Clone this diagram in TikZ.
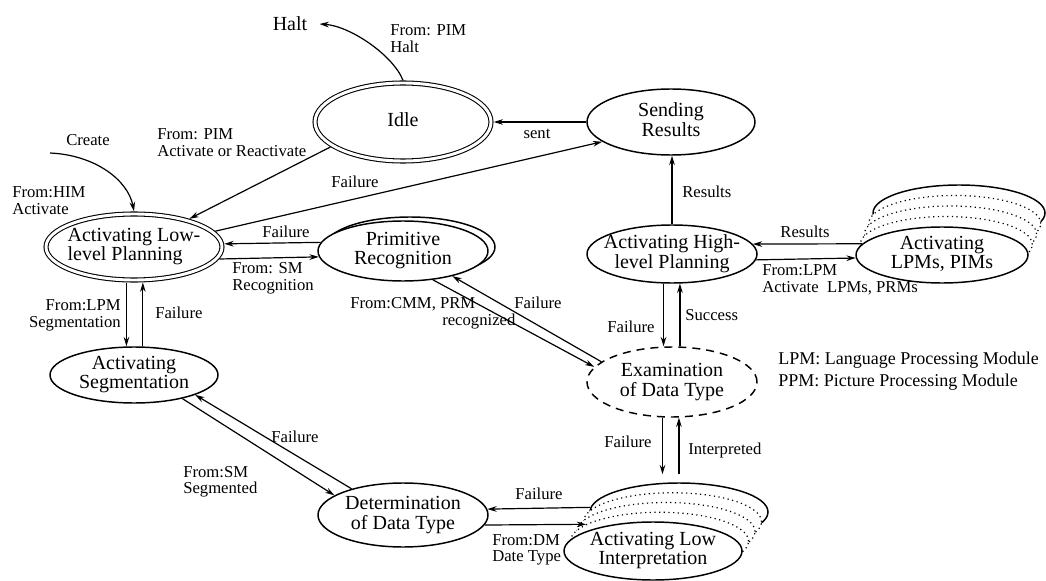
\documentclass[tikz,border=0pt]{standalone}
\usepackage{fontspec}
\setmainfont{Liberation Serif}
\usetikzlibrary{shapes.geometric,arrows.meta,calc}
\newcommand\nfont{\fontsize{15}{14.5}\selectfont}
\newcommand\lfont{\fontsize{12.5}{12.75}\selectfont}
\newcommand\tfont{\fontsize{12.5}{12}\selectfont}
\newcommand\gfont{\fontsize{13.5}{14}\selectfont}
\newcommand\ctext[2][c]{\makebox[0pt]{\raisebox{-0.25em}[0pt][0pt]{\begin{tabular}{@{}#1@{}}#2\end{tabular}}}}
\tikzset{
  st/.style={ellipse, draw, line width=1.1pt, fill=white, inner sep=0pt, font=\nfont},
  dbl/.style={double, line width=0.8pt, double distance=2.2pt, outer sep=2pt},
  stk/.style={ellipse, draw, line width=0.9pt, fill=white, inner sep=0pt, dash pattern=on 0.9pt off 2.6pt},
  sz/.style 2 args={minimum width=#1pt, minimum height=#2pt},
  arr/.style={-{Stealth[length=7pt,width=4.2pt]}, line width=0.9pt},
  lab/.style={font=\lfont, inner sep=0pt},
}
\begin{document}
\begin{tikzpicture}[x=0.75pt,y=-0.75pt]
\fill[white] (0,0) rectangle (1046,581);
\useasboundingbox (0,0) rectangle (1046,581);

% states
\node[st, dbl, sz={132}{58.5}] (idle) at (403,122) {\ctext{Idle}};
\node[st, sz={126}{49.5}] (sr) at (671,122) {\ctext{Sending\\Results}};
\node[st, dbl, sz={132}{49.5}] (llp) at (134,247) {\ctext[l]{Activating Low-\\level Planning}};
\node[st, sz={127.5}{45}] (prc) at (410,247) {};
\node[st, sz={127.5}{45}] (pr) at (403,251) {\ctext{Primitive\\Recognition}};
\node[st, sz={126}{42}] (seg) at (134,375) {\ctext{Activating\\Segmentation}};
\node[st, sz={127.5}{43.5}] (hlp) at (672,254) {\ctext{Activating High-\\level Planning}};

\node[st, sz={129}{42}] (lpm4) at (959,213) {};
\node[stk, sz={129}{42}] (lpm3) at (954.75,223.5) {};
\node[stk, sz={129}{42}] (lpm2) at (950.5,234) {};
\node[stk, sz={129}{42}] (lpm1) at (946.25,244.5) {};
\node[st, sz={129}{42}] (lpm) at (942,255) {\ctext{Activating\\LPMs, PIMs}};

\node[st, dash pattern=on 6pt off 4.5pt, sz={127.5}{52.5}] (exam) at (672,382) {\ctext{Examination\\of Data Type}};
\node[st, sz={127.5}{48}] (det) at (403,515) {\ctext{Determination\\of Data Type}};

\node[st, sz={133.5}{43.5}] (lint4) at (679,512) {};
\node[stk, sz={133.5}{43.5}] (lint3) at (672.5,521.75) {};
\node[stk, sz={133.5}{43.5}] (lint2) at (666,531.5) {};
\node[stk, sz={133.5}{43.5}] (lint1) at (659.5,541.25) {};
\node[st, sz={133.5}{43.5}] (lint) at (653,551) {\ctext{Activating Low\\Interpretation}};

% free texts
\node[font=\nfont, inner sep=0pt, inner xsep=9pt] (halt) at (290,24) {Halt};
\coordinate (cr) at (50,153);
\node[lab, align=left, anchor=west] (lhalt) at (390,38.5) {From: PIM\\Halt};
\node[lab] (lcreate) at (88,140) {Create};
\node[lab, align=left, anchor=west] (lhim) at (12,201) {From:HIM\\Activate};
\node[lab, align=left, anchor=west] (lpim) at (157,142.5) {From: PIM\\Activate or Reactivate};
\node[lab] (lf1) at (355,182) {Failure};
\node[lab] (lsent) at (537,134) {sent};
\node[lab, anchor=west] (lres1) at (682,192) {Results};
\node[lab] (lres2) at (805,232) {Results};
\node[lab, align=left, anchor=west] (llpm) at (762,280) {From:LPM\\Activate\ \ LPMs, PRMs};
\node[lab] (lf2) at (286,232) {Failure};
\node[lab, align=left, anchor=west] (lsm) at (232,278.5) {From: SM\\Recognition};
\node[lab, align=right, anchor=east] (lseg) at (121,315.5) {From:LPM\\Segmentation};
\node[lab, anchor=west] (lf3) at (155,313) {Failure};
\node[lab, align=left, anchor=west] (lcmm) at (350,313.5) {From:CMM, PRM\\\hspace*{69pt}recognized};
\node[lab] (lf4) at (538,303) {Failure};
\node[lab] (lf5) at (631,327) {Failure};
\node[lab, anchor=west] (lsucc) at (685,315) {Success};
\node[font=\gfont, anchor=west, inner sep=0pt] (leg1) at (778,360) {LPM: Language Processing Module};
\node[font=\gfont, anchor=west, inner sep=0pt] (leg2) at (778,382) {PPM: Picture Processing Module};
\node[lab] (lf6) at (295,437) {Failure};
\node[lab, font=\tfont, align=left, anchor=west] (lsm2) at (183,481.5) {From:SM\\Segmented};
\node[lab] (lf7) at (539,494) {Failure};
\node[lab, font=\tfont, align=left, anchor=west] (ldm) at (492,550) {From:DM\\Date Type};
\node[lab] (lf8) at (628,442) {Failure};
\node[lab, anchor=west] (linterp) at (688,450) {Interpreted};

% connectors
\draw[arr] (idle.north) .. controls (393,55) and (350,26) .. (halt.east);
\draw[arr] (cr) .. controls (95,155) and (128,180) .. (llp.north);
\draw[arr] (idle.199.7) -- (llp.27);
\draw[arr] (llp.11.6) -- (sr.196.9);
\draw[arr] (sr.west) -- (idle.east);
\draw[arr] (hlp.north) -- (hlp.north |- sr.south);
\draw[arr] (lpm.172.1) -- (hlp.7.1);
\draw[arr] (hlp.356.6) -- (lpm.182.7);
\draw[arr] (pr.174.4) -- (llp.2.5);
\draw[arr] (llp.352.7) -- (pr.184.8);
\draw[arr] (llp.258.9) -- (llp.258.9 |- seg.north);
\draw[arr] (llp.284.15 |- seg.north) -- (llp.284.15);
\draw[arr] (exam.164.6) -- (pr.333.4);
\draw[arr] (pr.316) -- (exam.169.4);
\draw[arr] (hlp.254.6) -- (hlp.254.6 |- exam.north);
\draw[arr] (hlp.285.4 |- exam.north) -- (hlp.285.4);
\draw[arr] (det.153) -- (seg.342);
\draw[arr] (seg.334) -- (det.164);
\draw[arr] (lint4.177.4) -- (det.4.8);
\draw[arr] (det.353.7) -- (lint1.167.6);
\draw[arr, shorten >=6pt] (exam.255.6) -- (exam.255.6 |- lint4.north);
\draw[arr, shorten <=6pt] (exam.281.3 |- lint4.north) -- (exam.281.3);
\end{tikzpicture}
\end{document}
